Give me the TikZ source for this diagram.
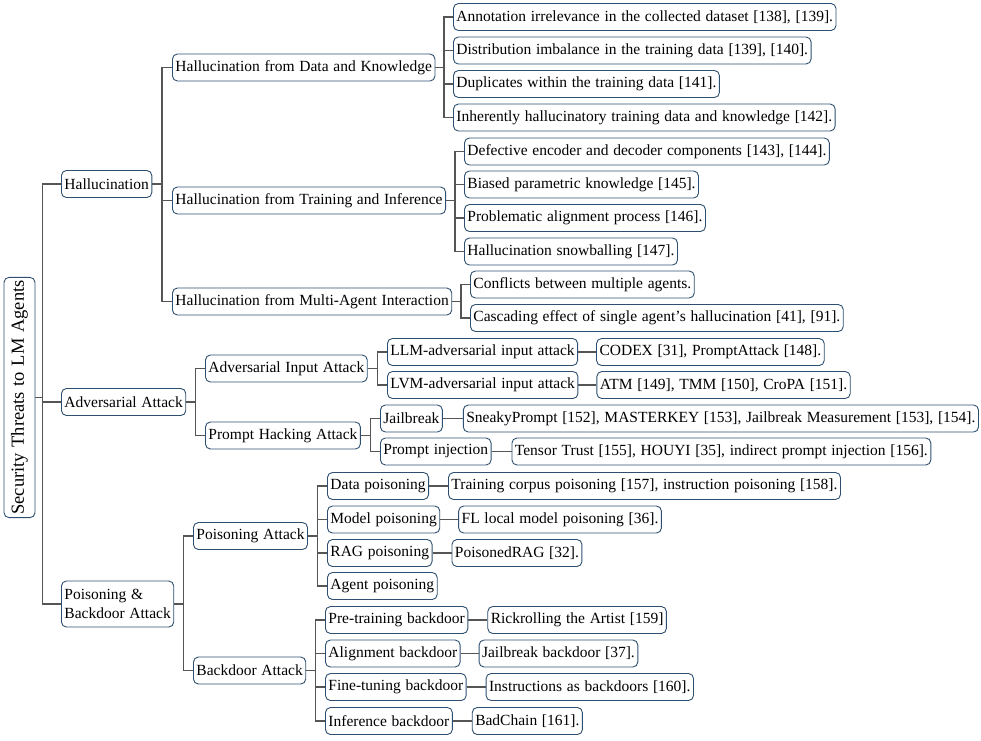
\documentclass[tikz,border=0pt]{standalone}
\usepackage{fontspec}
\setmainfont[WordSpace=1.22]{Liberation Serif}
\usetikzlibrary{calc}
\definecolor{bord}{RGB}{46,80,112}
\definecolor{conn}{RGB}{85,85,85}
\tikzset{
 box/.style={draw=bord, line width=0.9pt, rounded corners=5pt, fill=white, inner xsep=3pt, inner ysep=0pt, minimum height=27pt, font=\fontsize{15.5}{19}\selectfont, text=black, anchor=west},
 lnk/.style={draw=conn, line width=1.5pt},
}
\newcommand{\fk}[2]{\draw[lnk] (#1.east) -- ($(#1.east)!.5!(#1.east -| #2.west)$) |- (#2.west);}
\newcommand{\lk}[2]{\draw[lnk] (#1.east) -- (#2.west);}
\begin{document}
\begin{tikzpicture}[x=1pt,y=-1pt]
\useasboundingbox (0,0) rectangle (981,740);
% root
\node[box, anchor=center, rotate=90, minimum height=31pt, font=\fontsize{18.5}{22}\selectfont] (root) at (19.5,397.5) {Security Threats to LM Agents};
% level 1
\node[box] (hal) at (61,184) {Hallucination};
\node[box] (adv) at (61,402) {Adversarial Attack};
\node[box, align=left, minimum height=46pt] (pb) at (61,604) {Poisoning \&\\Backdoor Attack};
% level 2
\node[box] (hdk) at (172,67.5) {Hallucination from Data and Knowledge};
\node[box] (hti) at (172,200.5) {Hallucination from Training and Inference};
\node[box] (hma) at (172,301.5) {Hallucination from Multi-Agent Interaction};
\node[box] (aia) at (205,368.5) {Adversarial Input Attack};
\node[box] (pha) at (205,435.5) {Prompt Hacking Attack};
\node[box] (poa) at (193,536) {Poisoning Attack};
\node[box] (bda) at (193,670.5) {Backdoor Attack};
% level 3
\node[box] (d1) at (453,17) {Annotation irrelevance in the collected dataset [138], [139].};
\node[box] (d2) at (453,50.5) {Distribution imbalance in the training data [139], [140].};
\node[box] (d3) at (453,84) {Duplicates within the training data [141].};
\node[box] (d4) at (453,117.5) {Inherently hallucinatory training data and knowledge [142].};
\node[box] (t1) at (464,151.5) {Defective encoder and decoder components [143], [144].};
\node[box] (t2) at (464,184.5) {Biased parametric knowledge [145].};
\node[box] (t3) at (464,218) {Problematic alignment process [146].};
\node[box] (t4) at (464,251.5) {Hallucination snowballing [147].};
\node[box] (m1) at (470,284.5) {Conflicts between multiple agents.};
\node[box] (m2) at (470,318) {Cascading effect of single agent’s hallucination [41], [91].};
\node[box] (a1) at (387,352) {LLM-adversarial input attack};
\node[box] (a2) at (387,385) {LVM-adversarial input attack};
\node[box] (p1) at (380,418.5) {Jailbreak};
\node[box] (p2) at (380,451.5) {Prompt injection};
\node[box] (q1) at (327,486) {Data poisoning};
\node[box] (q2) at (327,519.5) {Model poisoning};
\node[box] (q3) at (327,553) {RAG poisoning};
\node[box] (q4) at (327,586) {Agent poisoning};
\node[box] (b1) at (325,620) {Pre-training backdoor};
\node[box] (b2) at (325,653.5) {Alignment backdoor};
\node[box] (b3) at (325,687) {Fine-tuning backdoor};
\node[box] (b4) at (325,721) {Inference backdoor};
% level 4
\node[box] (a1x) at ([xshift=18pt]a1.east) {CODEX [31], PromptAttack [148].};
\node[box] (a2x) at ([xshift=18pt]a2.east) {ATM [149], TMM [150], CroPA [151].};
\node[box] (p1x) at ([xshift=20pt]p1.east) {SneakyPrompt [152], MASTERKEY [153], Jailbreak Measurement [153], [154].};
\node[box] (p2x) at ([xshift=20pt]p2.east) {Tensor Trust [155], HOUYI [35], indirect prompt injection [156].};
\node[box] (q1x) at ([xshift=19pt]q1.east) {Training corpus poisoning [157], instruction poisoning [158].};
\node[box] (q2x) at ([xshift=18pt]q2.east) {FL local model poisoning [36].};
\node[box] (q3x) at ([xshift=19pt]q3.east) {PoisonedRAG [32].};
\node[box] (b1x) at ([xshift=19pt]b1.east) {Rickrolling the Artist [159]};
\node[box] (b2x) at ([xshift=18pt]b2.east) {Jailbreak backdoor [37].};
\node[box] (b3x) at ([xshift=19pt]b3.east) {Instructions as backdoors [160].};
\node[box] (b4x) at ([xshift=19pt]b4.east) {BadChain [161].};
% connectors
\draw[lnk] (root.south) -- ++(7,0) |- (hal.west);
\draw[lnk] (root.south) -- ++(7,0) |- (adv.west);
\draw[lnk] (root.south) -- ++(7,0) |- (pb.west);
\fk{hal}{hdk}\fk{hal}{hti}\fk{hal}{hma}
\fk{hdk}{d1}\fk{hdk}{d2}\fk{hdk}{d3}\fk{hdk}{d4}
\fk{hti}{t1}\fk{hti}{t2}\fk{hti}{t3}\fk{hti}{t4}
\fk{hma}{m1}\fk{hma}{m2}
\fk{adv}{aia}\fk{adv}{pha}
\fk{aia}{a1}\fk{aia}{a2}
\fk{pha}{p1}\fk{pha}{p2}
\fk{pb}{poa}\fk{pb}{bda}
\fk{poa}{q1}\fk{poa}{q2}\fk{poa}{q3}\fk{poa}{q4}
\fk{bda}{b1}\fk{bda}{b2}\fk{bda}{b3}\fk{bda}{b4}
\lk{a1}{a1x}\lk{a2}{a2x}\lk{p1}{p1x}\lk{p2}{p2x}
\lk{q1}{q1x}\lk{q2}{q2x}\lk{q3}{q3x}
\lk{b1}{b1x}\lk{b2}{b2x}\lk{b3}{b3x}\lk{b4}{b4x}
\end{tikzpicture}
\end{document}
